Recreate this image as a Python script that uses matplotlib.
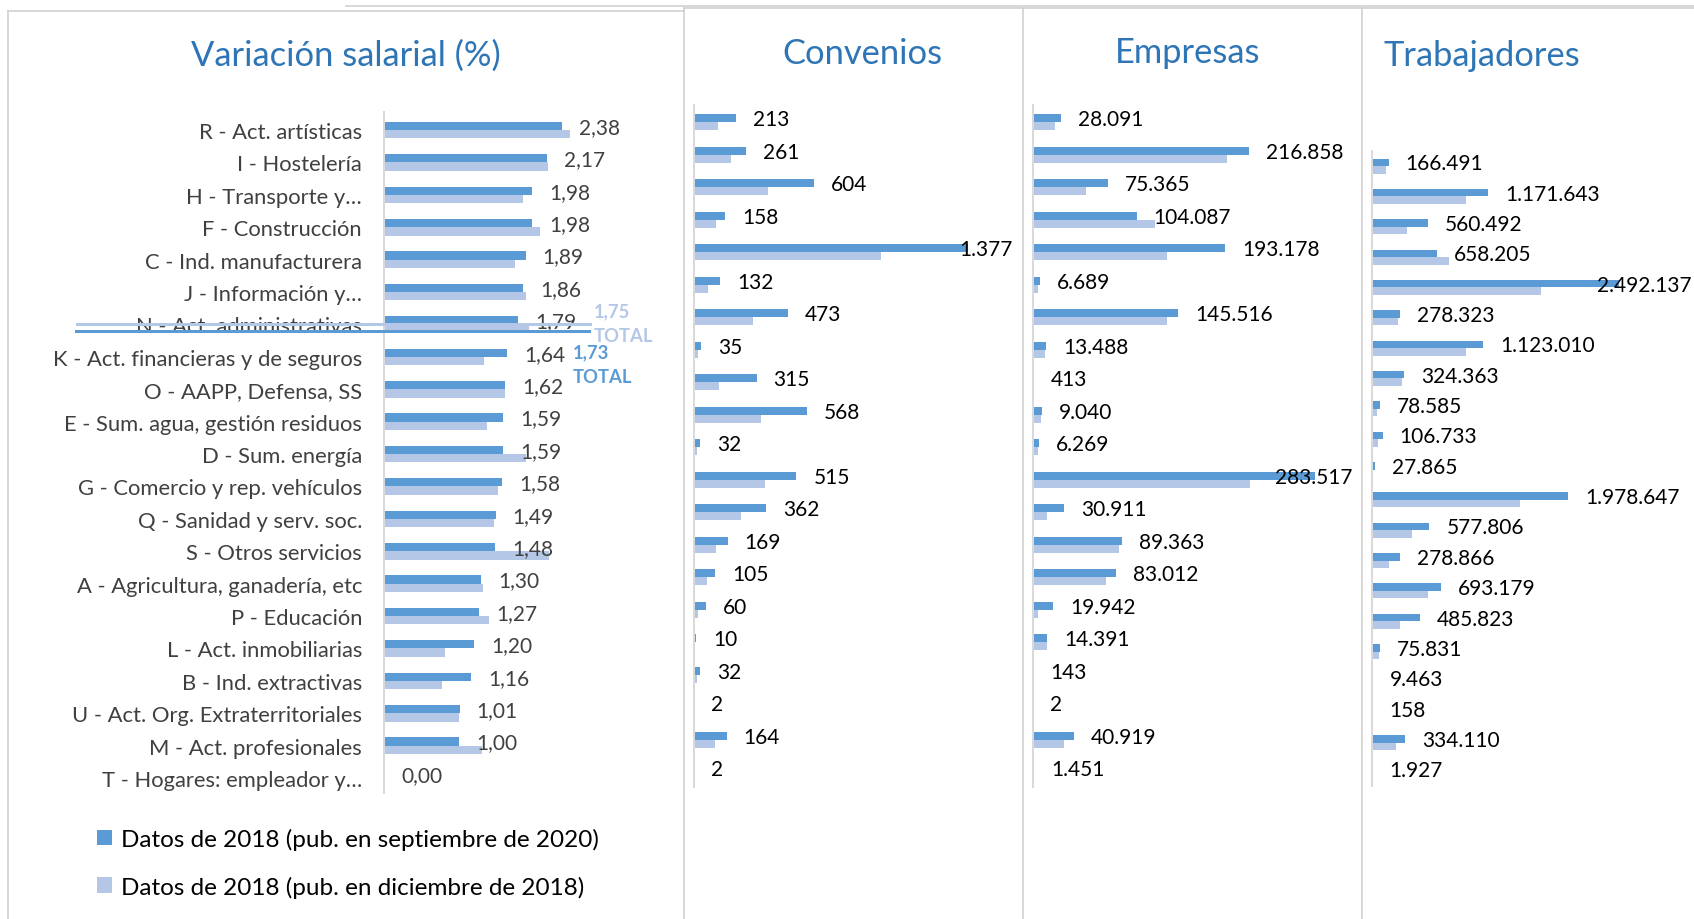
import numpy as np
import matplotlib
matplotlib.use("Agg")
import matplotlib.pyplot as plt
from matplotlib.transforms import Affine2D
from matplotlib.lines import Line2D

# ---------------- data ----------------
categories = ["R - Act. artísticas", "I - Hostelería", "H - Transporte y…", "F - Construcción",
              "C - Ind. manufacturera", "J - Información y…", "N - Act. administrativas",
              "K - Act. financieras y de seguros", "O - AAPP, Defensa, SS",
              "E - Sum. agua, gestión residuos", "D - Sum. energía", "G - Comercio y rep. vehículos",
              "Q - Sanidad y serv. soc.", "S - Otros servicios", "A - Agricultura, ganadería, etc",
              "P - Educación", "L - Act. inmobiliarias", "B - Ind. extractivas",
              "U - Act. Org. Extraterritoriales", "M - Act. profesionales", "T - Hogares: empleador y…"]

series_names = ["Datos de 2018 (pub. en septiembre de 2020)", "Datos de 2018 (pub. en diciembre de 2018)"]

var_2020 = [2.38, 2.17, 1.98, 1.98, 1.89, 1.86, 1.79, 1.64, 1.62, 1.59, 1.59, 1.58, 1.49, 1.48,
            1.30, 1.27, 1.20, 1.16, 1.01, 1.00, 0.00]
var_2018 = [2.48, 2.19, 1.86, 2.08, 1.75, 1.90, 1.93, 1.34, 1.62, 1.37, 1.90, 1.52, 1.47, 2.20,
            1.32, 1.40, 0.82, 0.77, 1.00, 1.31, 0.00]
total_2020 = 1.73
total_2018 = 1.75

conv_2020 = [213, 261, 604, 158, 1377, 132, 473, 35, 315, 568, 32, 515, 362, 169, 105, 60, 10, 32, 2, 164, 2]
conv_2018 = [122, 185, 372, 111, 939, 70, 295, 18, 126, 335, 13, 359, 235, 111, 67, 18, 3, 17, 1, 106, 1]

emp_2020 = [28091, 216858, 75365, 104087, 193178, 6689, 145516, 13488, 413, 9040, 6269, 283517,
            30911, 89363, 83012, 19942, 14391, 143, 2, 40919, 1451]
emp_2018 = [22400, 195100, 53500, 122200, 134200, 5400, 134900, 12400, 300, 7700, 5400, 218200,
            14100, 86700, 73600, 4700, 13700, 100, 2, 30800, 1300]

trab_2020 = [166491, 1171643, 560492, 658205, 2492137, 278323, 1123010, 324363, 78585, 106733, 27865,
             1978647, 577806, 278866, 693179, 485823, 75831, 9463, 158, 334110, 1927]
trab_2018 = [138000, 947000, 349000, 775500, 1699000, 258500, 947000, 305500, 47000, 64000, 7000,
             1491000, 403000, 168000, 561000, 279000, 67000, 6000, 100, 245000, 1500]

titles = ["Variación salarial (%)", "Convenios", "Empresas", "Trabajadores"]

# ---------------- style ----------------
DARK = "#5B9BD5"
LIGHT = "#B4C7E7"
TITLE_C = "#2E75B6"
GRID_C = "#D9D9D9"
TXT = "#404040"
FONT = ["Lato", "DejaVu Sans"]
plt.rcParams["font.family"] = FONT

W, H = 1694, 920
fig = plt.figure(figsize=(W / 100, H / 100), dpi=100)
fig.patch.set_facecolor("white")
PX = Affine2D().scale(1 / W, -1 / H).translate(0, 1) + fig.transFigure
PT = 0.72  # points per pixel at dpi 100

CAT_FS = 15.8
VAL_FS = 15
TITLE_FS = 24.8
LEG_FS = 17.5


def fmt_pct(v):
    return f"{v:.2f}".replace(".", ",")


def fmt_int(v):
    return f"{v:,}".replace(",", ".")


def panel(x_axis, x_right, y_top, y_bot, row0, step, px_per_unit, dark, light, fmt, val_color, bar_px):
    ax = fig.add_axes([x_axis / W, 1 - y_bot / H, (x_right - x_axis) / W, (y_bot - y_top) / H])
    ax.patch.set_alpha(0)
    n = len(dark)
    idx = np.arange(n)
    ax.set_xlim(0, (x_right - x_axis) / px_per_unit)
    ax.set_ylim((y_bot - row0) / step, (y_top - row0) / step)
    h = bar_px / step
    b1 = ax.barh(idx - h / 2, dark, height=h, color=DARK, linewidth=0, label=series_names[0])
    b2 = ax.barh(idx + h / 2, light, height=h, color=LIGHT, linewidth=0, label=series_names[1])
    for s in ["top", "right", "bottom"]:
        ax.spines[s].set_visible(False)
    ax.spines["left"].set_color(GRID_C)
    ax.spines["left"].set_linewidth(2 * PT)
    ax.set_xticks([])
    ax.set_yticks([])
    texts = []
    for i, v in enumerate(dark):
        t = ax.annotate(fmt(v), xy=(v, i - h / 2), xytext=(17 * PT, -1 * PT), textcoords="offset points",
                        ha="left", va="center", fontsize=VAL_FS, color=val_color, annotation_clip=False)
        texts.append(t)
    return ax, texts, (b1, b2)


# Panel 1: salary variation
ax1, t1, bars = panel(384, 600, 113, 794, 131, 32.4, 74.9, var_2020, var_2018, fmt_pct, TXT, 8.3)
ax1.set_yticks(np.arange(len(categories)))
ax1.set_yticklabels(categories, fontsize=CAT_FS, color=TXT)
ax1.tick_params(axis="y", length=0, pad=22 * PT)

# Panels 2-4
ax2, t2, _ = panel(694, 1013, 106, 788, 123, 32.5, 0.1987, conv_2020, conv_2018, fmt_int, "black", 8.0)
ax3, t3, _ = panel(1033, 1352, 106, 788, 123, 32.5, 1 / 1004.0, emp_2020, emp_2018, fmt_int, "black", 8.0)
ax4, t4, _ = panel(1372, 1693, 152, 787, 167, 30.35, 1 / 10072.0, trab_2020, trab_2018, fmt_int, "black", 7.5)

# clamp labels that would spill past the plot area (like Excel)
fig.canvas.draw()
for texts, clip in [(t1, 680), (t2, 1013), (t3, 1352), (t4, 1692)]:
    for t in texts:
        bb = t.get_window_extent()
        if bb.x1 > clip:
            dx, dy = t.xyann
            t.xyann = (dx - (bb.x1 - clip) * PT, dy)

# TOTAL lines
fig.add_artist(Line2D([77, 590], [325, 325], transform=PX, color=LIGHT, lw=3 * PT, zorder=5))
fig.add_artist(Line2D([76, 589], [332, 332], transform=PX, color=DARK, lw=3 * PT, zorder=5))
TOT_FS = 13.3
fig.text(594 / W, 1 - 312 / H, fmt_pct(total_2018), color=LIGHT, fontsize=TOT_FS, fontweight="bold",
         ha="left", va="center")
fig.text(594 / W, 1 - 337 / H, "TOTAL", color=LIGHT, fontsize=TOT_FS, fontweight="bold", ha="left", va="center")
fig.text(573 / W, 1 - 353 / H, fmt_pct(total_2020), color=DARK, fontsize=TOT_FS, fontweight="bold",
         ha="left", va="center")
fig.text(573 / W, 1 - 378 / H, "TOTAL", color=DARK, fontsize=TOT_FS, fontweight="bold", ha="left", va="center")

# Titles
for title, (cx, cy) in zip(titles, [(346, 56), (862, 54), (1188, 53), (1482, 56)]):
    fig.text(cx / W, 1 - cy / H, title, color=TITLE_C, fontsize=TITLE_FS, ha="center", va="center")

# Panel borders
border_lines = [
    ([346, 1694], [7, 7]),
    ([8, 684], [12, 12]),
    ([8, 8], [12, 920]),
    ([684, 684], [9, 920]),
    ([684, 1694], [9, 9]),
    ([1023, 1023], [9, 920]),
    ([1362, 1362], [9, 920]),
]
for xs, ys in border_lines:
    fig.add_artist(Line2D(xs, ys, transform=PX, color="#CFCFCF", lw=1.6 * PT, zorder=0))

# Legend
fig.legend(handles=list(bars), labels=series_names, loc="upper left",
           bbox_to_anchor=(97 / W, 1 - 829 / H), frameon=False, fontsize=LEG_FS,
           handlelength=0.6, handleheight=0.6, handletextpad=0.4, labelspacing=1.05,
           borderpad=0, borderaxespad=0, labelcolor="black")

fig.savefig("out.png", dpi=100, facecolor="white")
